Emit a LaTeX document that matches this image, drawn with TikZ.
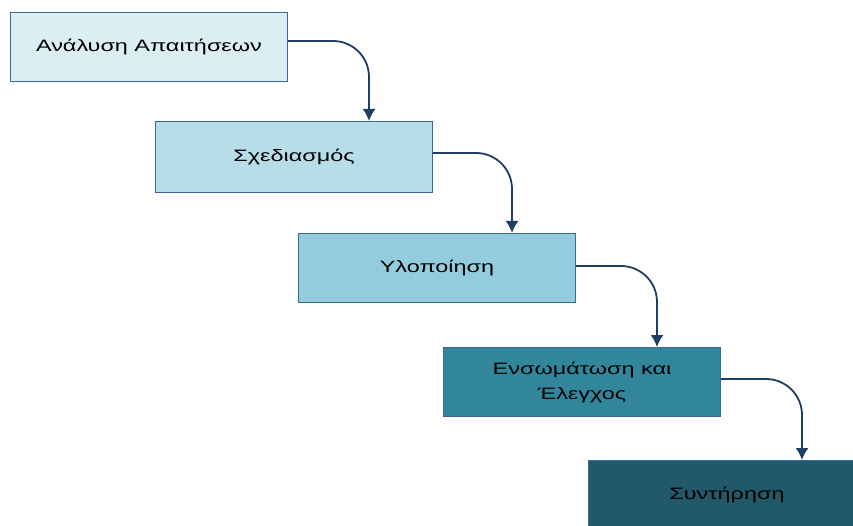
\documentclass[tikz,border=0pt]{standalone}
\usepackage{fontspec}
\setmainfont{Liberation Sans}
\newfontfamily\phasefont[FakeStretch=1.42]{Liberation Sans}
\usetikzlibrary{arrows.meta}
\definecolor{phaseA}{HTML}{DBEEF4}
\definecolor{phaseB}{HTML}{B7DEE8}
\definecolor{phaseC}{HTML}{93CDDD}
\definecolor{phaseD}{HTML}{31869B}
\definecolor{phaseE}{HTML}{215968}
\definecolor{edgeblue}{HTML}{3F6695}
\definecolor{flownavy}{HTML}{203E64}

\begin{document}
\begin{tikzpicture}[x=1pt,y=-1pt,
  phase/.style={draw=edgeblue, line width=1pt, minimum width=277pt, minimum height=69pt,
    anchor=north west, inner sep=0pt, align=center, text=black,
    font=\phasefont\fontsize{16.5}{25}\selectfont},
  flow/.style={draw=flownavy, line width=1.8pt, rounded corners=36pt,
    -{Latex[length=12pt,width=13pt]}}]
  \def\tipx{64pt}

  \clip (0,0) rectangle (853,526);
  \fill[white] (0,0) rectangle (853,526);

  %Phases of the waterfall
  \node[phase, fill=phaseA] (req) at (10,12) {Ανάλυση Απαιτήσεων};
  \node[phase, fill=phaseB, minimum height=71pt] (design) at (155,121) {Σχεδιασμός};
  \node[phase, fill=phaseC] (impl) at (298,233) {Υλοποίηση};
  \node[phase, fill=phaseD] (test) at (443,347) {Ενσωμάτωση και\\Έλεγχος};
  \node[phase, fill=phaseE] (maint) at (588,460) {Συντήρηση};

  %Connectors, one step down each
  \draw[flow] ([yshift=6pt]req.east) -| ([xshift=-\tipx]design.north east);
  \draw[flow] ([yshift=4pt]design.east) -| ([xshift=-\tipx]impl.north east);
  \draw[flow] ([yshift=2pt]impl.east) -| ([xshift=-\tipx]test.north east);
  \draw[flow] ([yshift=3pt]test.east) -| ([xshift=-\tipx]maint.north east);

\end{tikzpicture}
\end{document}
